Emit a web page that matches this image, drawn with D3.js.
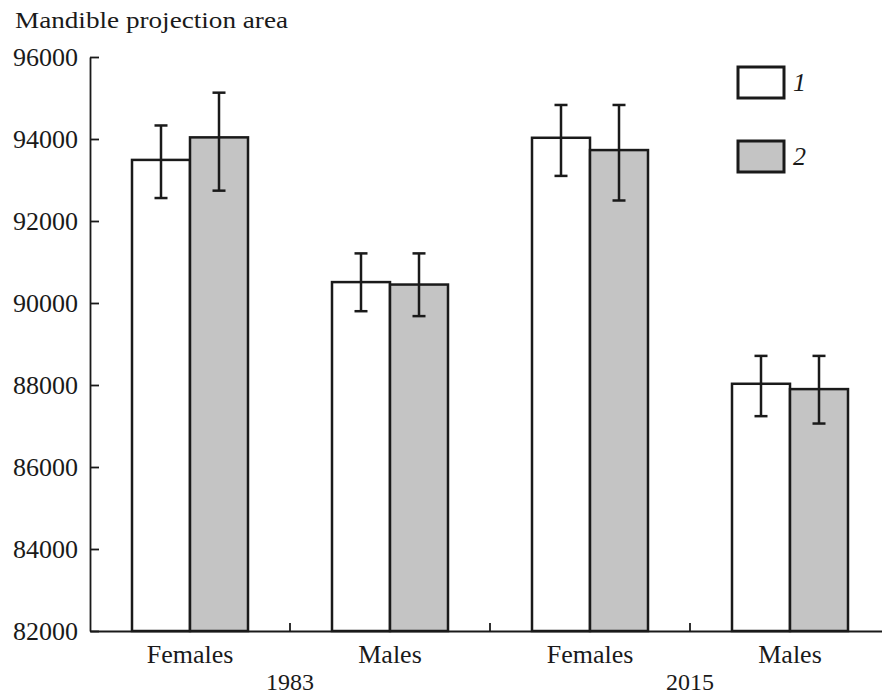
<!DOCTYPE html>
<html>
<head>
<meta charset="utf-8">
<script src="https://cdn.jsdelivr.net/npm/d3@7"></script>
<style>
  html, body { margin: 0; padding: 0; background: #fff; }
  svg { display: block; }
  text { font-family: "Liberation Serif", "DejaVu Serif", serif; fill: #1a1a1a; }
</style>
</head>
<body>
<svg id="chart" width="882" height="696"></svg>
<script>
// Mandible projection area by sex and survey year
const groups = ["F1983", "M1983", "F2015", "M2015"];
const groupLabels = ["Females", "Males", "Females", "Males"];
const years = ["1983", "2015"];
const series = ["1", "2"];

// mean values per group for series 1 and 2
const values1 = [93490, 90510, 94030, 88030];
const values2 = [94040, 90450, 93730, 87900];
// error bar ends (upper / lower)
const upper1 = [94330, 91210, 94830, 88710];
const lower1 = [92560, 89800, 93100, 87240];
const upper2 = [95130, 91210, 94830, 88710];
const lower2 = [92740, 89680, 92500, 87060];

const yTicks = [82000, 84000, 86000, 88000, 90000, 92000, 94000, 96000];

const serif = "'Liberation Serif', 'DejaVu Serif', serif";
const svg = d3.select("#chart");
const ink = "#1a1a1a";

const y = d3.scaleLinear().domain([82000, 96000]).range([631, 57]);
const x = d3.scaleBand().domain(groups).range([90, 890]).padding(0);
const sub = d3.scaleBand().domain(series).range([-58, 58]).padding(0);

const data = [];
groups.forEach((g, i) => {
  data.push({ g, s: "1", v: values1[i], hi: upper1[i], lo: lower1[i] });
  data.push({ g, s: "2", v: values2[i], hi: upper2[i], lo: lower2[i] });
});
const fill = d3.scaleOrdinal().domain(series).range(["#ffffff", "#c4c4c4"]);

// bars
svg.append("g").selectAll("rect").data(data).join("rect")
  .attr("x", d => x(d.g) + x.bandwidth() / 2 + sub(d.s))
  .attr("width", sub.bandwidth())
  .attr("y", d => y(d.v))
  .attr("height", d => y(82000) - y(d.v))
  .attr("fill", d => fill(d.s))
  .attr("stroke", ink)
  .attr("stroke-width", 2.5);

// error bars
const eb = svg.append("g").attr("stroke", ink).attr("stroke-width", 2.5);
const cx = d => x(d.g) + x.bandwidth() / 2 + sub(d.s) + sub.bandwidth() / 2;
eb.selectAll("line.v").data(data).join("line").attr("class", "v")
  .attr("x1", cx).attr("x2", cx)
  .attr("y1", d => y(d.hi)).attr("y2", d => y(d.lo));
eb.selectAll("line.t").data(data).join("line").attr("class", "t")
  .attr("x1", d => cx(d) - 6.5).attr("x2", d => cx(d) + 6.5)
  .attr("y1", d => y(d.hi)).attr("y2", d => y(d.hi));
eb.selectAll("line.b").data(data).join("line").attr("class", "b")
  .attr("x1", d => cx(d) - 6.5).attr("x2", d => cx(d) + 6.5)
  .attr("y1", d => y(d.lo)).attr("y2", d => y(d.lo));

// y axis
const yAxis = svg.append("g").attr("transform", "translate(90,0)")
  .call(d3.axisLeft(y).tickValues(yTicks).tickFormat(d3.format("d"))
    .tickSizeInner(-9).tickSizeOuter(0).tickPadding(12))
  .attr("font-family", serif).attr("font-size", 26);
yAxis.selectAll("path, line").attr("stroke", ink).attr("stroke-width", 1.8);
yAxis.selectAll("text").attr("fill", ink).style("font-family", serif);

// x axis: category labels under band centres, ticks at band boundaries
const xAxis = svg.append("g").attr("transform", "translate(0,631)")
  .call(d3.axisBottom(x).tickFormat((d, i) => groupLabels[i])
    .tickSize(0).tickPadding(14))
  .attr("font-family", serif).attr("font-size", 26);
xAxis.select("path").attr("stroke", ink).attr("stroke-width", 1.8);
xAxis.selectAll("text").attr("fill", ink).style("font-family", serif);
svg.append("g").selectAll("line").data(groups.slice(1)).join("line")
  .attr("x1", d => x(d)).attr("x2", d => x(d))
  .attr("y1", 631).attr("y2", 623)
  .attr("stroke", ink).attr("stroke-width", 1.8);

// year labels, centred under each pair of groups
svg.append("g").selectAll("text").data(years).join("text")
  .attr("x", (d, i) => x(groups[2 * i + 1]))
  .attr("y", 690)
  .attr("text-anchor", "middle")
  .attr("font-size", 24)
  .text(d => d);

// axis title
svg.append("text").attr("x", 15).attr("y", 28)
  .attr("font-size", 24)
  .attr("textLength", 273).attr("lengthAdjust", "spacingAndGlyphs")
  .text("Mandible projection area");

// legend
const legend = svg.append("g").selectAll("g").data(series).join("g")
  .attr("transform", (d, i) => `translate(738,${67 + i * 74})`);
legend.append("rect")
  .attr("width", 46).attr("height", 31)
  .attr("fill", d => fill(d))
  .attr("stroke", ink).attr("stroke-width", 3);
legend.append("text")
  .attr("x", 55).attr("y", 24)
  .attr("font-size", 26).attr("font-style", "italic")
  .text(d => d);
</script>
</body>
</html>
